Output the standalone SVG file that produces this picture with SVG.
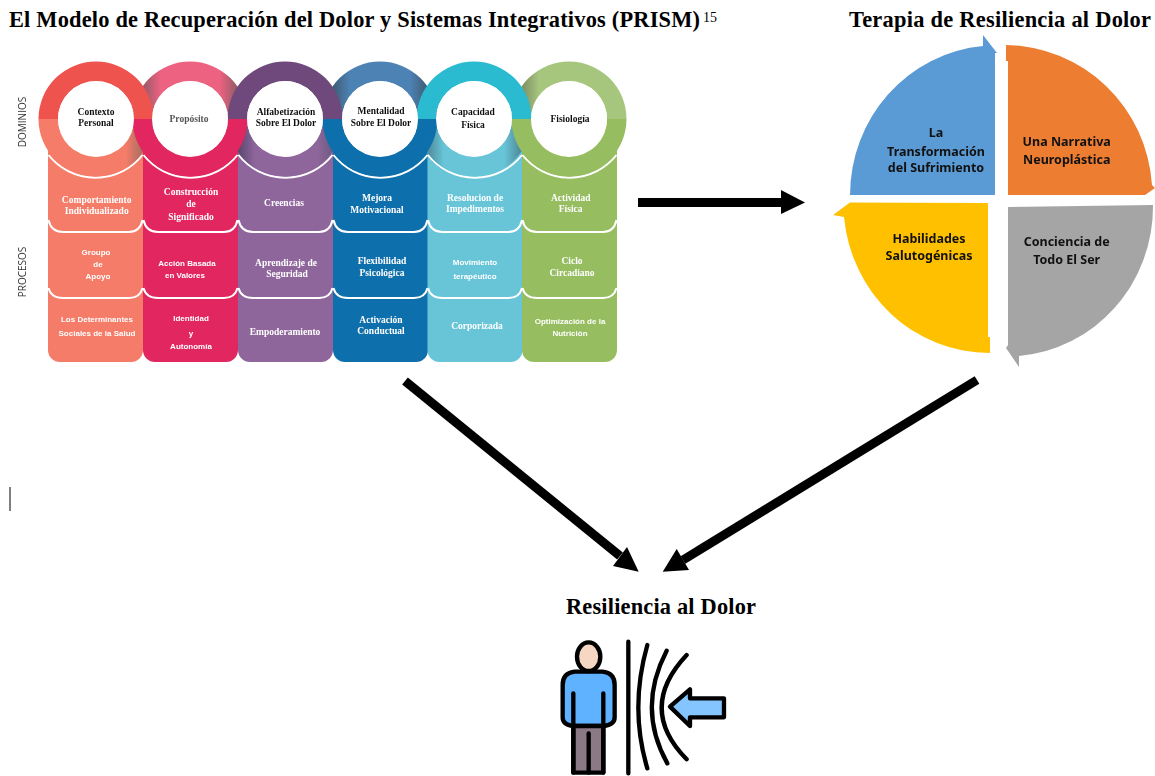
<svg xmlns="http://www.w3.org/2000/svg" width="1155" height="776" viewBox="0 0 1155 776">
<style>
.title{font:bold 22.4px "Liberation Serif",serif;fill:#000}
.d{font:bold 9.5px "Liberation Serif",serif;text-anchor:middle;fill:#111}
.p{font:bold 9.5px "Liberation Serif",serif;text-anchor:middle;fill:#fff}
.s{font:bold 8px "Liberation Sans",sans-serif;text-anchor:middle;fill:#fff}
.v{font:10px "Open Sans",sans-serif;text-anchor:middle;fill:#333}
.q{font:bold 12.5px "Noto Sans",sans-serif;text-anchor:middle;fill:#111}
.sep{fill:none;stroke:#fff;stroke-width:2}
.hole{fill:#fff}
.conn{fill:none;stroke:#000;stroke-width:9}
.ic{stroke:#000;stroke-width:13;stroke-linejoin:round;stroke-linecap:round}
.soft{filter:url(#soft)}
</style>
<defs>
<filter id="soft" x="-2%" y="-2%" width="104%" height="104%"><feGaussianBlur stdDeviation="0.4"/></filter>
<linearGradient id="gp" x1="0" x2="1" y1="0" y2="0"><stop offset="0.08" stop-color="#8d5a66"/><stop offset="0.24" stop-color="#ec6280"/><stop offset="0.76" stop-color="#ec6280"/><stop offset="0.92" stop-color="#8d5a66"/></linearGradient>
<linearGradient id="gb" x1="0" x2="1" y1="0" y2="0"><stop offset="0.08" stop-color="#3c5a70"/><stop offset="0.24" stop-color="#4e82b5"/><stop offset="0.76" stop-color="#4e82b5"/><stop offset="0.92" stop-color="#3c5a70"/></linearGradient>
<linearGradient id="gg" x1="0" x2="1" y1="0" y2="0"><stop offset="0.08" stop-color="#7c8a62"/><stop offset="0.24" stop-color="#a6c67e"/></linearGradient>
<linearGradient id="gr" x1="0" x2="1" y1="0" y2="0"><stop offset="0.76" stop-color="#f47b68"/><stop offset="0.95" stop-color="#8f6a60"/></linearGradient>
<linearGradient id="gv" x1="0" x2="1" y1="0" y2="0"><stop offset="0.08" stop-color="#54456a"/><stop offset="0.24" stop-color="#8f669c"/><stop offset="0.78" stop-color="#8f669c"/><stop offset="0.92" stop-color="#6a5a80"/></linearGradient>
<linearGradient id="gc" x1="0" x2="1" y1="0" y2="0"><stop offset="0.08" stop-color="#4b8494"/><stop offset="0.24" stop-color="#68c5d8"/><stop offset="0.76" stop-color="#68c5d8"/><stop offset="0.92" stop-color="#4b8494"/></linearGradient>
<path id="top" d="M-57.5,0A57.5,57.5 0 0 1 57.5,0H38A38,38 0 0 0 -38,0Z"/>
<path id="low" d="M-57.5,0A57.5,57.5 0 0 0 57.5,0H38A38,38 0 0 1 -38,0Z"/>
<path id="seps" d="M0.5,220Q3,232 15,232H81Q92,232 94.5,220M0.5,288Q3,298 15,298H81Q92,298 94.5,288M0.5,155A60,60 0 0 0 94.5,155"/>
<path id="col" d="M0,150H95V350A12,12 0 0 1 83,362H12A12,12 0 0 1 0,350Z"/>
</defs>
<text class="title" x="9" y="27" textLength="691">El Modelo de Recuperación del Dolor y Sistemas Integrativos (PRISM)</text>
<text x="703" y="21.500" font-family="Liberation Serif,serif" font-size="14">15</text>
<text class="title" x="849" y="27" textLength="302">Terapia de Resiliencia al Dolor</text>
<text class="title" x="566" y="614" textLength="190">Resiliencia al Dolor</text>
<rect x="9.500" y="487" width="1" height="24" fill="#000"/>
<g class="soft">
<text class="v" transform="translate(26,122) rotate(-90)">DOMINIOS</text>
<text class="v" transform="translate(26,272) rotate(-90)">PROCESOS</text>
</g>
<g class="soft">
<g id="columns">
<use href="#col" x="48" fill="#f47b68"/>
<use href="#col" x="143" fill="#e12761"/>
<use href="#col" x="238" fill="#8f669c"/>
<use href="#col" x="333" fill="#1170ac"/>
<use href="#col" x="427.500" fill="#68c5d8"/>
<use href="#col" x="522" fill="#96bd5f"/>
<use href="#seps" x="48" class="sep"/>
<use href="#seps" x="143" class="sep"/>
<use href="#seps" x="238" class="sep"/>
<use href="#seps" x="333" class="sep"/>
<use href="#seps" x="427.500" class="sep"/>
<use href="#seps" x="522" class="sep"/>
</g>
<g id="rings">
<use href="#top" x="190" y="119" fill="url(#gp)"/>
<use href="#top" x="380" y="119" fill="url(#gb)"/>
<use href="#top" x="569" y="119" fill="url(#gg)"/>
<use href="#top" x="96" y="119" fill="#ef534e"/>
<use href="#top" x="285" y="119" fill="#6f4a7b"/>
<use href="#top" x="474" y="119" fill="#2abbd0"/>
<use href="#low" x="96" y="119" fill="url(#gr)"/>
<use href="#low" x="285" y="119" fill="url(#gv)"/>
<use href="#low" x="474" y="119" fill="url(#gc)"/>
<use href="#low" x="190" y="119" fill="#e12761"/>
<use href="#low" x="380" y="119" fill="#1170ac"/>
<use href="#low" x="569" y="119" fill="#96bd5f"/>
</g>
<g id="contexto"><circle class="hole" cx="96" cy="119" r="38"/>
<text class="d" x="96" y="114.500">Contexto</text><text class="d" x="96" y="126">Personal</text>
<text class="p" x="96.700" y="202.700">Comportamiento</text><text class="p" x="96.700" y="214">Individualizado</text>
<text class="s" x="96" y="255">Groupo</text><text class="s" x="98" y="267">de</text><text class="s" x="98" y="279">Apoyo</text>
<text class="s" x="97" y="322">Los Determinantes</text><text class="s" x="97" y="336">Sociales de la Salud</text></g>
<g id="proposito"><circle class="hole" cx="190" cy="119" r="38"/>
<text class="d" x="189" y="121.500" style="fill:#555">Propósito</text>
<text class="p" x="191" y="194.700">Construcción</text><text class="p" x="191" y="206.700">de</text><text class="p" x="191" y="220">Significado</text>
<text class="s" x="187" y="265.700">Acción Basada</text><text class="s" x="185" y="277.700">en Valores</text>
<text class="s" x="191" y="321">Identidad</text><text class="s" x="191" y="335.700">y</text><text class="s" x="191" y="349">Autonomía</text></g>
<g id="alfabetizacion"><circle class="hole" cx="285" cy="119" r="38"/>
<text class="d" x="286" y="114.700">Alfabetización</text><text class="d" x="286" y="126">Sobre El Dolor</text>
<text class="p" x="284" y="206">Creencias</text>
<text class="p" x="286" y="266">Aprendizaje de</text><text class="p" x="287" y="277">Seguridad</text>
<text class="p" x="285" y="335.300">Empoderamiento</text></g>
<g id="mentalidad"><circle class="hole" cx="380" cy="119" r="38"/>
<text class="d" x="381" y="114">Mentalidad</text><text class="d" x="381" y="126">Sobre El Dolor</text>
<text class="p" x="377" y="201">Mejora</text><text class="p" x="377" y="213">Motivacional</text>
<text class="p" x="382" y="264">Flexibilidad</text><text class="p" x="382" y="275.700">Psicológica</text>
<text class="p" x="381" y="322.700">Activación</text><text class="p" x="381" y="333.700">Conductual</text></g>
<g id="capacidad"><circle class="hole" cx="474" cy="119" r="38"/>
<text class="d" x="473" y="115">Capacidad</text><text class="d" x="473" y="128">Física</text>
<text class="p" x="475" y="200.700">Resolucion de</text><text class="p" x="475" y="212">Impedimentos</text>
<text class="s" x="475" y="265">Movimiento</text><text class="s" x="475" y="279">terapéutico</text>
<text class="p" x="477" y="329">Corporizada</text></g>
<g id="fisiologia"><circle class="hole" cx="569" cy="119" r="38"/>
<text class="d" x="570" y="121.700">Fisiología</text>
<text class="p" x="570.700" y="200.700">Actividad</text><text class="p" x="570.700" y="212">Física</text>
<text class="p" x="572" y="264">Ciclo</text><text class="p" x="572" y="275.700">Circadiano</text>
<text class="s" x="570" y="324.300">Optimización de la</text><text class="s" x="570" y="336">Nutrición</text></g>
</g>
<g id="transformacion"><path fill="#5b9bd5" d="M850,195A146,150 0 0 1 983,46L983,35L997,53H995V195Z"/>
<text class="q" x="936" y="137.300">La</text><text class="q" x="936" y="155.700">Transformación</text><text class="q" x="936" y="171.700">del Sufrimiento</text></g>
<g id="narrativa"><path fill="#ed7d31" d="M1006,45A148,150 0 0 1 1152,185L1155,188L1145,195H1008V61H1006Z"/>
<text class="q" x="1066.700" y="146.300">Una Narrativa</text><text class="q" x="1066.700" y="163.700">Neuroplástica</text></g>
<g id="conciencia"><path fill="#a5a5a5" d="M1008,207L1153,205A146,150 0 0 1 1019,356L1019,367L1006,348L1008,345Z"/>
<text class="q" x="1066.700" y="246.300">Conciencia de</text><text class="q" x="1066.700" y="263.700">Todo El Ser</text></g>
<g id="habilidades"><path fill="#ffc000" d="M988,203V337H990V353A146,150 0 0 1 844,217L833,215L850,202.500Z"/>
<text class="q" x="929" y="242.700">Habilidades</text><text class="q" x="929" y="260.300">Salutogénicas</text></g>

<g id="connectors">
<line class="conn" x1="638" y1="202.500" x2="785" y2="202.500"/><path d="M781,190L805,202.500L781,214Z"/>
<line class="conn" x1="405" y1="381" x2="620" y2="556"/><path d="M638.700,571.700L613,566L627,547Z"/>
<line class="conn" x1="977" y1="380" x2="683" y2="560"/><path d="M662.700,571.700L676.700,549L689,570Z"/>
</g>

<g id="persona"><g transform="translate(540,630) scale(0.3333)" class="ic">
<path fill="#5eb2ff" d="M146,125H105Q68,128 68,165V262Q68,285 100,288H190Q224,285 224,262V165Q224,128 187,125Z"/>
<path fill="#8b7a86" d="M100,288V428H190V288Z"/>
<ellipse cx="146" cy="80" rx="35" ry="43" fill="#f6d7c3"/>
<path fill="none" d="M100,190V428M190,190V428M146,310V428"/>
<path fill="none" d="M265,35V430M322,45Q268,235 322,415M380,62Q290,235 382,400M440,75Q290,235 440,388"/>
<path fill="#84c5ff" d="M390,230L450,178V205H552V262H450V288Z"/>
</g></g>
</svg>
